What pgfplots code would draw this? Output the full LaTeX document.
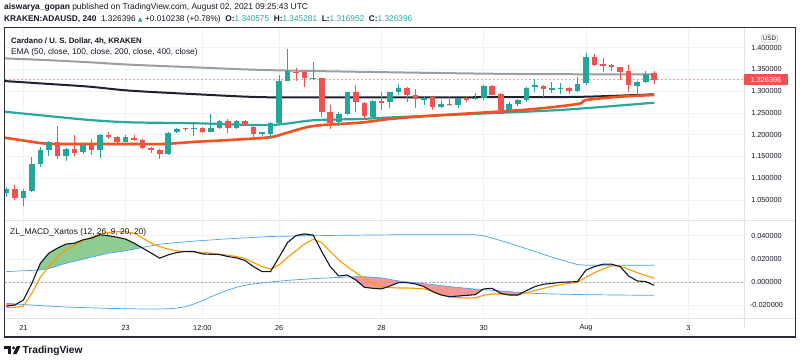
\documentclass[border=0pt]{standalone}
\usepackage{fontspec}
\setmainfont{Liberation Sans}
\newfontfamily\dejavu{DejaVu Sans}
\usepackage{pgfplots}
\usepackage{pgfplotstable}
\pgfplotsset{compat=1.18}
\definecolor{upc}{HTML}{26A69A}
\definecolor{dnc}{HTML}{EF5350}
\definecolor{emaA}{HTML}{F4511E}
\definecolor{emaB}{HTML}{2AA8A0}
\definecolor{emaC}{HTML}{1E222D}
\definecolor{emaD}{HTML}{9E9E9E}
\definecolor{gridc}{HTML}{F0F2F5}
\definecolor{sepc}{HTML}{E0E3EB}
\definecolor{framec}{HTML}{2A2E39}
\definecolor{txt}{HTML}{131722}
\definecolor{macdc}{HTML}{131722}
\definecolor{sigc}{HTML}{FF9800}
\definecolor{bandc}{HTML}{42A5F5}
\definecolor{gfill}{HTML}{7CC47F}
\definecolor{rfill}{HTML}{F28B8B}

% green candles: index, body top (close), body bottom (open), high, low
\pgfplotstableread{
i top bot h l
0 1.076 1.066 1.079 1.056
2 1.070 1.055 1.0756 1.037
3 1.133 1.070 1.1476 1.068
4 1.164 1.133 1.1714 1.125
5 1.182 1.164 1.185 1.151
7 1.168 1.151 1.170 1.139
9 1.177 1.160 1.180 1.155
11 1.200 1.1655 1.201 1.146
14 1.195 1.184 1.1986 1.182
19 1.204 1.155 1.205 1.153
20 1.212 1.206 1.215 1.203
22 1.215 1.213 1.2253 1.196
24 1.216 1.206 1.247 1.205
25 1.231 1.215 1.233 1.213
27 1.231 1.215 1.233 1.213
30 1.205 1.201 1.207 1.198
31 1.227 1.202 1.229 1.191
32 1.3236 1.227 1.337 1.225
33 1.346 1.3236 1.3965 1.322
36 1.3297 1.3275 1.3666 1.325
39 1.248 1.229 1.251 1.220
40 1.297 1.248 1.299 1.245
43 1.278 1.2415 1.280 1.240
45 1.297 1.275 1.299 1.261
46 1.308 1.298 1.316 1.290
49 1.283 1.279 1.286 1.2675
51 1.270 1.2636 1.279 1.262
53 1.283 1.2675 1.285 1.262
55 1.283 1.281 1.296 1.279
56 1.311 1.283 1.313 1.280
59 1.2714 1.2576 1.274 1.252
60 1.279 1.270 1.281 1.265
61 1.308 1.279 1.310 1.276
62 1.3136 1.310 1.3267 1.298
64 1.306 1.3035 1.320 1.2945
65 1.306 1.304 1.318 1.294
67 1.316 1.300 1.3313 1.298
68 1.3788 1.3175 1.3866 1.3145
74 1.320 1.312 1.322 1.292
75 1.339 1.320 1.3466 1.318
}\upT
% red candles: index, body top (open), body bottom (close), high, low
\pgfplotstableread{
i top bot h l
1 1.0756 1.055 1.085 1.051
6 1.182 1.151 1.219 1.145
8 1.168 1.159 1.199 1.152
10 1.177 1.1655 1.190 1.153
12 1.200 1.194 1.205 1.190
13 1.194 1.184 1.196 1.180
15 1.193 1.187 1.200 1.185
16 1.187 1.170 1.189 1.168
17 1.170 1.164 1.172 1.158
18 1.164 1.155 1.166 1.145
21 1.2145 1.212 1.216 1.208
23 1.2153 1.205 1.217 1.203
26 1.232 1.2145 1.236 1.2046
28 1.231 1.221 1.233 1.219
29 1.2175 1.202 1.219 1.1945
34 1.344 1.341 1.354 1.3236
35 1.344 1.330 1.346 1.310
37 1.329 1.252 1.331 1.2406
38 1.252 1.2277 1.2675 1.214
41 1.297 1.275 1.315 1.252
42 1.2737 1.242 1.276 1.235
44 1.2767 1.272 1.297 1.256
47 1.308 1.2906 1.310 1.274
48 1.2906 1.281 1.304 1.260
50 1.2853 1.2636 1.287 1.256
52 1.2714 1.268 1.288 1.266
54 1.283 1.279 1.287 1.274
57 1.311 1.292 1.313 1.290
58 1.293 1.2576 1.295 1.2484
63 1.312 1.305 1.314 1.2867
66 1.3074 1.2998 1.309 1.293
69 1.3788 1.3597 1.385 1.357
70 1.3613 1.358 1.375 1.343
71 1.3597 1.3558 1.3625 1.3466
72 1.3544 1.3443 1.356 1.325
73 1.3458 1.3136 1.3597 1.2982
76 1.340575 1.326396 1.345281 1.316952
}\dnT

\pgfplotsset{
 tvaxis/.style={scale only axis, width=739pt, xmin=-0.15, xmax=86.53,
   axis line style={draw=none}, major tick length=0pt, tick style={draw=none},
   xtick={2,14,23,32,44,56,68,80},
   xmajorgrids, ymajorgrids, grid style={gridc, line width=0.7pt},
   scaled y ticks=false,
   yticklabel pos=right,
   yticklabel style={anchor=center, xshift=22.5pt, font=\fontsize{7.3}{8}\selectfont, text=txt,
     /pgf/number format/fixed, /pgf/number format/fixed zerofill,
     /pgf/number format/precision=6, /pgf/number format/assume math mode=true},
 },
 wick/.style={draw=none, no markers, mark size=0pt, forget plot, error bars/.cd, y dir=minus, y explicit, error mark=none, error bar style={draw=#1, line width=0.9pt}},
 body/.style={draw=none, no markers, mark size=0pt, forget plot, error bars/.cd, y dir=minus, y explicit, error mark=none, error bar style={draw=#1, line width=5.6pt}},
}

\begin{document}
\begin{tikzpicture}
\useasboundingbox[fill=white] (0,0) rectangle (800pt,362pt);

% ---------- price panel ----------
\begin{axis}[tvaxis, at={(5pt,142pt)}, anchor=south west, height=192pt,
  ymin=1.0041, ymax=1.44475,
  ytick={1.05,1.1,1.15,1.2,1.25,1.3,1.35,1.4},
  xticklabels={,,,,,,,}]
\addplot[dnc!55, dash pattern=on 2pt off 2pt, line width=0.6pt, forget plot]
  coordinates {(-0.15,1.326396)(86.53,1.326396)};
\addplot[emaD, line width=2pt, smooth, forget plot] coordinates {
 (-0.2,1.375)(4.5,1.3713)(9.8,1.366)(14.5,1.3606)(22.7,1.354)(30.9,1.348)(45.4,1.343)(61,1.339)(76,1.3385)};
\addplot[emaC, line width=2pt, smooth, forget plot] coordinates {
 (-0.2,1.323)(4.5,1.317)(9.8,1.310)(14.5,1.301)(22.4,1.2926)(30.9,1.2857)(45.4,1.2857)(61,1.286)(67.9,1.287)(76,1.2926)};
\addplot[emaB, line width=2.2pt, smooth, forget plot] coordinates {
 (-0.2,1.2527)(4.5,1.2435)(9.8,1.2336)(14.5,1.2283)(22.4,1.226)(30.9,1.222)(36,1.233)(41.5,1.2359)(45.4,1.2398)(61,1.2527)(66.7,1.2589)(76,1.2733)};
\addplot[emaA, line width=2.6pt, smooth, forget plot] coordinates {
 (-0.2,1.193)(2.2,1.186)(4.55,1.1795)(7.5,1.1785)(14.9,1.1785)(18.4,1.1785)(22.4,1.1838)(26.2,1.1877)(30.9,1.194)(32.7,1.203)(36,1.2198)(41.5,1.2275)(45,1.236)(49.4,1.2428)(60.8,1.257)(67,1.2703)(68,1.2794)(72,1.2871)(76,1.291)};
% candles
\addplot[wick=upc] table[x=i, y=h, y error minus expr={\thisrow{h}-\thisrow{l}}] {\upT};
\addplot[wick=dnc] table[x=i, y=h, y error minus expr={\thisrow{h}-\thisrow{l}}] {\dnT};
\addplot[body=upc] table[x=i, y=top, y error minus expr={\thisrow{top}-\thisrow{bot}}] {\upT};
\addplot[body=dnc] table[x=i, y=top, y error minus expr={\thisrow{top}-\thisrow{bot}}] {\dnT};
\coordinate (cp) at (axis cs:86.53,1.326396);
\end{axis}

% ---------- MACD panel ----------
\begin{axis}[tvaxis, at={(5pt,44pt)}, anchor=south west, height=98pt,
  ymin=-0.0312, ymax=0.05368,
  ytick={-0.02,0,0.02,0.04},
  xticklabels={21,23,12:00,26,28,30,Aug,3},
  xticklabel style={anchor=center, yshift=-10pt, font=\fontsize{7.3}{8}\selectfont, text=txt}]
\addplot[gray!70, dash pattern=on 2pt off 2pt, line width=0.6pt, forget plot]
  coordinates {(-0.15,0)(86.53,0)};
% fills
\addplot[fill=gfill, draw=none, fill opacity=0.85, forget plot] coordinates {
 (3.66,0.01028)(4,0.0162)(5,0.0250)(6,0.0293)(7,0.0328)(8,0.0336)(9,0.0365)(10,0.0380)(11,0.0409)(12,0.0400)(13,0.0388)(14,0.0371)(15,0.0336)(15.9,0.02976)
 (14,0.027)(12,0.025)(10,0.0215)(7,0.0162)(5,0.0116)(4,0.0104)} -- cycle;
\addplot[fill=gfill, draw=none, fill opacity=0.85, forget plot] coordinates {
 (33.9,0.03975)(34,0.0403)(35,0.0417)(36,0.0406)(36.04,0.04005)} -- cycle;
\addplot[fill=gfill, draw=none, fill opacity=0.85, forget plot] coordinates {
 (69.57,0.0145)(70,0.0154)(71,0.0154)(71.43,0.0145)} -- cycle;
\addplot[fill=rfill, draw=none, fill opacity=0.9, forget plot] coordinates {
 (0,-0.0209)(1,-0.0200)(1.21,-0.0191)(1,-0.019)(0,-0.0185)} -- cycle;
\addplot[fill=rfill, draw=none, fill opacity=0.9, forget plot] coordinates {
 (40.38,0.00436)(41,0.0017)(42,-0.0046)(43,-0.0055)(44,-0.0060)(45,-0.0035)(46,-0.0006)(47,-0.0006)(48,-0.0017)(49,-0.0040)(50,-0.0084)(51,-0.0113)(52,-0.0128)(53,-0.0122)(54,-0.0116)(55,-0.0110)(55.875,-0.00663)
 (54,-0.0055)(52,-0.004)(50,-0.0023)(48,-0.0006)(47,0.0)(46,0.0009)(44,0.0035)(42,0.0046)} -- cycle;
\addplot[fill=rfill, draw=none, fill opacity=0.9, forget plot] coordinates {
 (57.45,-0.0075)(58,-0.0099)(59,-0.0113)(60,-0.0113)(60.54,-0.00924)(60,-0.009)(58,-0.0078)} -- cycle;
% bands
\addplot[bandc, line width=0.7pt, forget plot] coordinates {
 (0,0.009)(4,0.0104)(5,0.0116)(7,0.0162)(10,0.0215)(12,0.025)(14,0.027)(16,0.0299)(18,0.0328)(22,0.0354)(26,0.0374)(31,0.0394)(38,0.0403)(46,0.0409)(55,0.0409)(56,0.040)(58,0.0359)(60,0.0313)(62,0.0264)(64,0.0215)(66,0.0171)(67,0.0151)(68,0.0145)(76,0.0145)};
\addplot[bandc, line width=0.7pt, forget plot] coordinates {
 (0,-0.0185)(3,-0.020)(7,-0.0217)(12,-0.0229)(17,-0.0235)(19,-0.0232)(20,-0.0226)(21,-0.0214)(22,-0.0191)(23,-0.0162)(24,-0.0128)(25,-0.0099)(26,-0.007)(27,-0.0046)(28,-0.0029)(29,-0.0017)(31,0.0)(33,0.0014)(36,0.0029)(40,0.0043)(42,0.0046)(44,0.0035)(46,0.0009)(47,0.0)(48,-0.0006)(50,-0.0023)(52,-0.004)(54,-0.0055)(56,-0.0067)(58,-0.0078)(60,-0.009)(62,-0.0099)(64,-0.0104)(68,-0.011)(76,-0.0116)};
% signal
\addplot[sigc, line width=1.1pt, forget plot] coordinates {
 (0,-0.0220)(1,-0.0220)(2,-0.0209)(3,-0.0099)(4,0.0041)(5,0.0133)(6,0.0220)(7,0.0278)(8,0.0319)(9,0.0359)(10,0.0388)(11,0.0415)(12,0.0429)(13,0.0435)(14,0.0435)(15,0.0423)(16,0.0380)(17,0.0336)(18,0.0307)(19,0.0284)(20,0.0270)(21,0.0264)(22,0.0261)(23,0.0255)(24,0.0250)(25,0.0240)(26,0.0232)(27,0.0220)(28,0.0203)(29,0.0168)(30,0.0133)(31,0.0113)(32,0.0148)(33,0.0215)(34,0.0272)(35,0.0330)(36,0.0371)(37,0.0342)(38,0.0264)(39,0.0191)(40,0.0133)(41,0.0081)(42,0.0032)(43,-0.0012)(44,-0.0040)(45,-0.0049)(46,-0.0052)(47,-0.0052)(48,-0.0055)(49,-0.0060)(50,-0.0078)(51,-0.0104)(52,-0.0128)(53,-0.0136)(54,-0.0139)(55,-0.0136)(56,-0.0116)(57,-0.0104)(58,-0.0104)(59,-0.0110)(60,-0.0113)(61,-0.0093)(62,-0.0075)(63,-0.0055)(64,-0.0038)(65,-0.0023)(66,-0.0012)(67,-0.0003)(68,0.0041)(69,0.0081)(70,0.0113)(71,0.0139)(72,0.0139)(73,0.0110)(74,0.0081)(75,0.0055)(76,0.0032)};
% MACD
\addplot[macdc, line width=1.1pt, forget plot] coordinates {
 (0,-0.0209)(1,-0.0200)(2,-0.0157)(3,-0.0012)(4,0.0162)(5,0.0250)(6,0.0293)(7,0.0328)(8,0.0336)(9,0.0365)(10,0.0380)(11,0.0409)(12,0.0400)(13,0.0388)(14,0.0371)(15,0.0336)(16,0.0293)(17,0.0250)(18,0.0206)(19,0.0235)(20,0.0255)(21,0.0264)(22,0.0264)(23,0.0243)(24,0.0240)(25,0.0238)(26,0.0220)(27,0.0209)(28,0.0186)(29,0.0133)(30,0.0090)(31,0.0090)(32,0.0215)(33,0.0342)(34,0.0403)(35,0.0417)(36,0.0406)(37,0.0264)(38,0.0133)(39,0.0052)(40,0.0060)(41,0.0017)(42,-0.0046)(43,-0.0055)(44,-0.0060)(45,-0.0035)(46,-0.0006)(47,-0.0006)(48,-0.0017)(49,-0.0040)(50,-0.0084)(51,-0.0113)(52,-0.0128)(53,-0.0122)(54,-0.0116)(55,-0.0110)(56,-0.0060)(57,-0.0055)(58,-0.0099)(59,-0.0113)(60,-0.0113)(61,-0.0075)(62,-0.0040)(63,-0.0020)(64,-0.0012)(65,-0.0003)(66,0.0000)(67,0.0003)(68,0.0104)(69,0.0133)(70,0.0154)(71,0.0154)(72,0.0133)(73,0.0052)(74,0.0009)(75,0.0003)(76,-0.0029)};
\end{axis}

% ---------- frame and separators ----------
\draw[sepc, line width=0.7pt] (744pt,34pt) -- (744pt,334pt);
\draw[sepc, line width=0.7pt] (5pt,142pt) -- (795pt,142pt);
\draw[sepc, line width=0.7pt] (5pt,44pt) -- (795pt,44pt);
\draw[framec, line width=1.3pt] (4.5pt,25pt) rectangle (795.5pt,334.3pt);

% current price label
\node[fill=dnc, text=white, anchor=center, minimum width=44pt, minimum height=10.5pt, inner sep=0pt,
      font=\fontsize{7.3}{8}\selectfont] at ([xshift=22pt]cp) {1.326396};
% USD box
\node[draw=gray!60, rounded corners=1.5pt, inner sep=1.3pt, line width=0.5pt, text=txt,
      font=\fontsize{6.3}{7}\selectfont] at (769.5pt,323.5pt) {USD};

% ---------- texts ----------
\node[anchor=base west, inner sep=0pt, text=txt, font=\fontsize{8.45}{9}\selectfont] at (4pt,352.5pt)
  {\textbf{aiswarya\_gopan} published on TradingView.com, August 02, 2021 09:25:43 UTC};
\node[anchor=base west, inner sep=0pt, text=txt, font=\fontsize{8.3}{9}\selectfont] at (4pt,340.8pt)
  {\textbf{KRAKEN:ADAUSD, 240}\ \ 1.326396 {\dejavu\color{upc}\scalebox{0.75}{▲}} +0.010238 (+0.78\%)\ \ \textbf{O:}\textcolor{upc}{1.340575}\ \ \textbf{H:}\textcolor{upc}{1.345281}\ \ \textbf{L:}\textcolor{upc}{1.316952}\ \ \textbf{C:}\textcolor{upc}{1.326396}};
\node[anchor=base west, inner sep=0pt, text=txt, font=\fontsize{7.8}{9}\selectfont\bfseries] at (11pt,318.7pt)
  {Cardano / U. S. Dollar, 4h, KRAKEN};
\node[anchor=base west, inner sep=0pt, text=txt, font=\fontsize{8.3}{9}\selectfont] at (11pt,307.2pt)
  {EMA (50, close, 100, close, 200, close, 400, close)};
\node[anchor=base west, inner sep=0pt, text=txt, font=\fontsize{8.35}{9}\selectfont] at (10pt,127.3pt)
  {ZL\_MACD\_Xartos (12, 26, 9, 20, 20)};

% logo
\fill[txt] (4pt,16pt) rectangle (11pt,13pt);
\fill[txt] (7.5pt,16pt) rectangle (11pt,8pt);
\fill[txt] (13.6pt,14.2pt) circle (1.6pt);
\fill[txt] (16.8pt,16pt) -- (20.5pt,16pt) -- (16.6pt,8pt) -- (12.9pt,8pt) -- cycle;
\node[anchor=base west, inner sep=0pt, text=txt, font=\fontsize{10.2}{11}\selectfont\bfseries] at (22.5pt,8.2pt) {TradingView};
\end{tikzpicture}
\end{document}
